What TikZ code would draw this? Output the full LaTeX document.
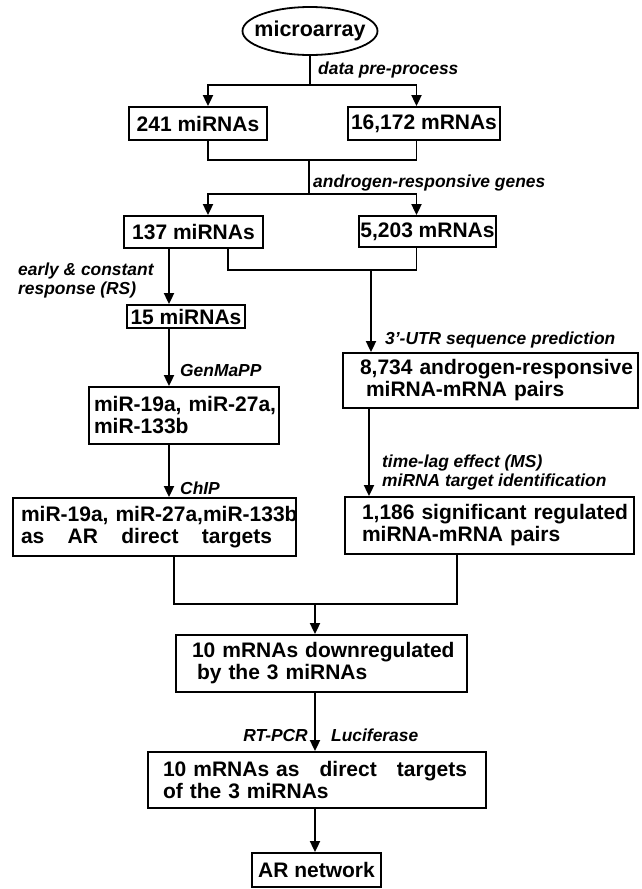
\documentclass[tikz,border=0pt]{standalone}
\usepackage{fontspec}
\setmainfont{Liberation Sans}
\usetikzlibrary{shapes.geometric,arrows.meta}
\begin{document}
\begin{tikzpicture}[x=1pt,y=-1pt,
  box/.style={draw,line width=1.8pt,inner sep=0pt,font=\fontsize{21}{22}\selectfont\bfseries},
  lbox/.style={box,align=left},
  lab/.style={inner sep=0pt,font=\fontsize{17.4}{19}\selectfont\bfseries\itshape,anchor=base west},
  conn/.style={line width=1.8pt},
  arr/.style={conn,-{Triangle[width=10pt,length=11pt]}}]
\useasboundingbox (0,0) rectangle (641,889);

% nodes
\node[box,ellipse,minimum width=135pt,minimum height=48pt] (micro) at (310,31) {\makebox[0pt]{\fontsize{21.5}{22}\selectfont microarray}};
\node[box,minimum width=138pt,minimum height=33pt] (n241) at (198,123.5) {241 miRNAs};
\node[box,minimum width=152pt,minimum height=33pt] (n16) at (424,123.5) {16,172 mRNAs};
\node[box,minimum width=139pt,minimum height=32pt] (n137) at (193.5,232) {137 miRNAs};
\node[box,minimum width=137pt,minimum height=31pt] (n5203) at (427.5,231.5) {5,203 mRNAs};
\node[box,minimum width=118pt,minimum height=23pt] (n15) at (186,316.5) {15 miRNAs};
\node[lbox,minimum width=190pt,minimum height=57pt,text width=180pt,inner xsep=5pt] (nmir) at (184,415.5)
  {\mbox{miR-19a, miR-27a,}\\miR-133b};
\node[lbox,minimum width=283pt,minimum height=58pt,text width=267pt,inner xsep=8pt] (nARd) at (154.5,527)
  {\mbox{miR-19a, miR-27a,miR-133b}\\\makebox[251pt][l]{as\hfill AR\hfill direct\hfill targets}};
\node[lbox,minimum width=295pt,minimum height=55pt,text width=261pt,inner xsep=17pt] (n8734) at (490.5,380.5)
  {\mbox{8,734 androgen-responsive}\\\hspace*{6pt}miRNA-mRNA pairs};
\node[lbox,minimum width=289pt,minimum height=57pt,text width=255pt,inner xsep=17pt] (n1186) at (489.5,525.5)
  {\mbox{1,186 significant regulated}\\miRNA-mRNA pairs};
\node[lbox,minimum width=291pt,minimum height=57pt,text width=259pt,inner xsep=16pt] (n10) at (321.5,663.5)
  {\mbox{10 mRNAs downregulated}\\\hspace*{5pt}by the 3 miRNAs};
\node[lbox,minimum width=338pt,minimum height=56pt,text width=308pt,inner xsep=15pt] (nb2) at (317,780)
  {\makebox[304pt][l]{10 mRNAs as\hfill direct\hfill targets}\\of the 3 miRNAs};
\node[box,minimum width=129pt,minimum height=34pt] (nAR) at (316.5,870) {AR network};

% helper coordinates
\coordinate (f1) at (310,85);
\coordinate (m1) at (309,160);
\coordinate (f2) at (309,194);
\coordinate (xL) at (208,0);
\coordinate (xR) at (416.5,0);
\coordinate (xC) at (169,0);
\coordinate (xE) at (228,0);
\coordinate (m2) at (371,270);
\coordinate (xD) at (369,0);
\coordinate (xF) at (174,0);
\coordinate (xG) at (457,0);
\coordinate (m3) at (315,604);

% connectors
\draw[conn] (micro) -- (f1);
\draw[arr] (f1) -| (n241.north -| xL);
\draw[arr] (f1) -| (n16.north -| xR);
\draw[conn] (n241.south -| xL) |- (m1) -| (n16.south -| xR);
\draw[conn] (m1) -- (f2);
\draw[arr] (f2) -| (n137.north -| xL);
\draw[arr] (f2) -| (n5203.north -| xR);
\draw[arr] (n137.south -| xC) -- (n15.north -| xC);
\draw[conn] (n137.south -| xE) |- (m2) -| (n5203.south -| xR);
\draw[arr] (m2) -- (n8734.north -| m2);
\draw[arr] (n15.south -| xC) -- (nmir.north -| xC);
\draw[arr] (nmir.south -| xC) -- (nARd.north -| xC);
\draw[arr] (n8734.south -| xD) -- (n1186.north -| xD);
\draw[conn] (nARd.south -| xF) |- (m3) -| (n1186.south -| xG);
\draw[arr] (m3) -- (n10.north -| m3);
\draw[arr] (n10.south -| m3) -- (nb2.north -| m3);
\draw[arr] (nb2.south -| m3) -- (nAR.north -| m3);

% labels
\node[lab] (l1) at (318,74) {data pre-process};
\node[lab] (l2) at (313,187) {androgen-responsive genes};
\node[lab,align=left] (l3) at (18,294) {early \& constant\\response (RS)};
\node[lab] (l4) at (385,344) {3'-UTR sequence prediction};
\node[lab] (l5) at (180,376) {GenMaPP};
\node[lab] (l6) at (180,494) {ChIP};
\node[lab,align=left] (l7) at (382,486) {time-lag effect (MS)\\miRNA target identification};
\node[lab,anchor=base east] (l8) at (308,741) {RT-PCR};
\node[lab] (l9) at (331,741) {Luciferase};
\end{tikzpicture}
\end{document}
